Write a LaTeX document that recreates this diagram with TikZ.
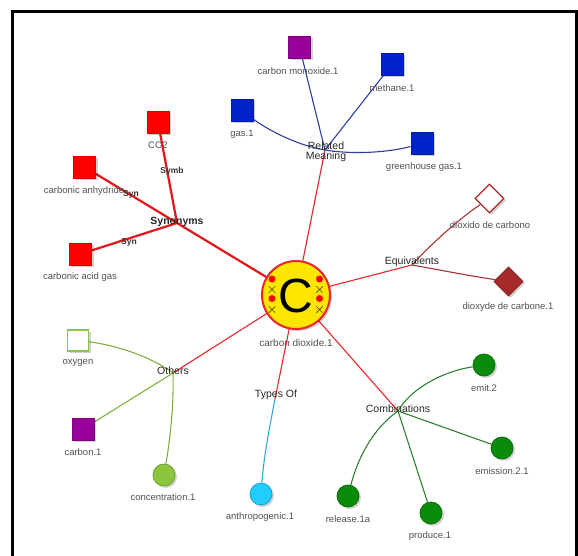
\documentclass[tikz,border=0pt]{standalone}
\usepackage{fontspec}
\setmainfont{Liberation Sans}
\usetikzlibrary{shadows,shapes.geometric}

\definecolor{redline}{HTML}{E8262B}
\definecolor{synred}{HTML}{E3161B}
\definecolor{redsq}{HTML}{FF0000}
\definecolor{bluesq}{HTML}{0022C8}
\definecolor{blueline}{HTML}{2B3FA0}
\definecolor{purplesq}{HTML}{990099}
\definecolor{brownsq}{HTML}{A52A2A}
\definecolor{brownline}{HTML}{A83236}
\definecolor{lightgreen}{HTML}{8CC63E}
\definecolor{lightgreenline}{HTML}{7FB03F}
\definecolor{darkgreen}{HTML}{0B8B0B}
\definecolor{darkgreenline}{HTML}{2F7F35}
\definecolor{cyanfill}{HTML}{22CCFF}
\definecolor{cyanline}{HTML}{2EA8D5}
\definecolor{yellowfill}{HTML}{FFE600}
\definecolor{labelgray}{HTML}{505050}
\definecolor{crossgreen}{HTML}{4D4D10}

\pgfdeclarelayer{bg}
\pgfsetlayers{bg,main}

\tikzset{
  shade1/.style={drop shadow={shadow xshift=2pt,shadow yshift=-2pt,opacity=0.18,fill=black}},
  sq/.style={rectangle,minimum size=22pt,inner sep=0pt,line width=0.8pt,shade1},
  dia/.style={diamond,minimum size=29pt,inner sep=0pt,line width=1.2pt,shade1},
  dot/.style={circle,minimum size=22pt,inner sep=0pt,line width=0.8pt,shade1},
  lbl/.style={font=\fontsize{9.5}{11}\selectfont,text=labelgray,inner sep=1pt},
  hublbl/.style={font=\fontsize{10.5}{12}\selectfont,text=black!85,inner sep=1pt,align=center},
  elbl/.style={font=\bfseries\fontsize{8.5}{10}\selectfont,text=black!80,inner sep=1pt},
  core/.style={line width=1.1pt,redline},
  syncore/.style={line width=2.2pt,synred},
  link/.style={line width=1.1pt},
  xmark/.style={crossgreen,line width=0.7pt},
}

\begin{document}
\begin{tikzpicture}[x=1pt,y=-1pt]
\useasboundingbox (0,0) rectangle (578,556);
% frame
\draw[line width=3pt,black] (12,556) -- (12,12) -- (576.5,12) -- (576.5,556);

% hub points
\coordinate (C0) at (296,295);
\coordinate (syn) at (177,223);
\coordinate (rel) at (325,150);
\coordinate (equ) at (412,265);
\coordinate (oth) at (173,373);
\coordinate (typ) at (275,399);
\coordinate (com) at (398,411);

% leaves
\node[sq,fill=redsq,draw=red!85!black] (co2) at (158,122) {};
\node[sq,fill=redsq,draw=red!85!black] (anh) at (84.5,167) {};
\node[sq,fill=redsq,draw=red!85!black] (acid) at (80.5,254) {};
\node[sq,fill=purplesq,draw=purplesq!85!black] (mono) at (299.5,47) {};
\node[sq,fill=bluesq,draw=bluesq!85!black] (meth) at (392,64.5) {};
\node[sq,fill=bluesq,draw=bluesq!85!black] (gas) at (242,110.5) {};
\node[sq,fill=bluesq,draw=bluesq!85!black] (green) at (422,143.5) {};
\node[dia,fill=white,draw=brownsq] (dioxido) at (489.5,198.5) {};
\node[dia,fill=brownsq,draw=brownsq!90!black] (dioxyde) at (508.5,281.5) {};
\node[sq,fill=white,draw=lightgreen,line width=1.4pt,minimum size=21pt] (oxy) at (78,340.5) {};
\node[sq,fill=purplesq,draw=purplesq!85!black] (carb) at (83,429) {};
\node[dot,fill=lightgreen,draw=lightgreen!80!black] (conc) at (164,475) {};
\node[dot,fill=cyanfill,draw=cyanfill!80!black] (anthro) at (261,494) {};
\node[dot,fill=darkgreen,draw=darkgreen!80!black] (emit) at (484,365) {};
\node[dot,fill=darkgreen,draw=darkgreen!80!black] (emis) at (502,448) {};
\node[dot,fill=darkgreen,draw=darkgreen!80!black] (prod) at (431,513) {};
\node[dot,fill=darkgreen,draw=darkgreen!80!black] (rel1a) at (348,496) {};

% connectors, drawn underneath the nodes
\begin{pgfonlayer}{bg}
  % centre to hubs
  \draw[syncore] (C0) -- (syn);
  \draw[core] (C0) -- (rel);
  \draw[core] (C0) -- (equ);
  \draw[core] (C0) -- (oth);
  \draw[core] (C0) -- (typ);
  \draw[core] (C0) -- (com);
  % synonyms
  \draw[syncore] (syn) -- (co2);
  \draw[syncore] (syn) -- (anh);
  \draw[syncore] (syn) -- (acid);
  % related meaning
  \draw[link,blueline] (rel) -- (mono);
  \draw[link,blueline] (rel) -- (meth);
  \draw[link,blueline] (gas) .. controls (265,128) and (295,145) .. (rel);
  \draw[link,blueline] (rel) .. controls (355,155) and (390,152) .. (green);
  % equivalents
  \draw[link,brownline] (equ) .. controls (430,245) and (460,218) .. (dioxido);
  \draw[link,brownline] (equ) .. controls (440,270) and (470,276) .. (dioxyde);
  % others
  \draw[link,lightgreenline] (oxy) .. controls (115,345) and (150,356) .. (oth);
  \draw[link,lightgreenline] (oth) -- (carb);
  \draw[link,lightgreenline] (oth) .. controls (174,405) and (170,440) .. (conc);
  % types of
  \draw[link,cyanline] (typ) .. controls (270,425) and (264,455) .. (anthro);
  % combinations
  \draw[link,darkgreenline] (com) .. controls (410,390) and (440,372) .. (emit);
  \draw[link,darkgreenline] (com) -- (emis);
  \draw[link,darkgreenline] (com) -- (prod);
  \draw[link,darkgreenline] (com) .. controls (378,425) and (360,450) .. (rel1a);
\end{pgfonlayer}

% edge labels of the synonym links
\node[elbl] (symb) at (172,171) {Symb};
\node[elbl] (syn1) at (131,194) {Syn};
\node[elbl] (syn2) at (129,242) {Syn};

% central concept
\node[circle,minimum size=68pt,inner sep=0pt,fill=yellowfill,draw=redline,line width=2pt,shade1] (cnode) at (C0) {};
\node[anchor=base,inner sep=0pt,font=\fontsize{48}{48}\selectfont] (bigC) at (296,312) {C};
\foreach \px/\py in {272/279,272/298.5,319.5/279,319.5/298.5}
  \fill[red] (\px,\py) circle (3.5);
\foreach \px/\py in {272/289.5,272/309.5,319.5/289.5,319.5/309.5}
  \draw[xmark] (\px-3.2,\py-3.2) -- (\px+3.2,\py+3.2) (\px-3.2,\py+3.2) -- (\px+3.2,\py-3.2);

% hub labels
\node[hublbl] (synL) at (177,222) {\bfseries Synonyms};
\node[hublbl] (relL) at (326,152) {Related\\[-2pt]Meaning};
\node[hublbl] (equL) at (412,262) {Equivalents};
\node[hublbl] (othL) at (173,371) {Others};
\node[hublbl] (typL) at (276,395) {Types Of};
\node[hublbl] (comL) at (398,409) {Combinations};

% leaf labels
\node[lbl] (tco2) at (158,145) {CO2};
\node[lbl] (tanh) at (84,191) {carbonic anhydride};
\node[lbl] (tacid) at (80,277) {carbonic acid gas};
\node[lbl] (tmono) at (298,71) {carbon monoxide.1};
\node[lbl] (tmeth) at (392,88) {methane.1};
\node[lbl] (tgas) at (242,134) {gas.1};
\node[lbl] (tgreen) at (424,167) {greenhouse gas.1};
\node[lbl] (tdioxido) at (490,225) {dioxido de carbono};
\node[lbl] (tdioxyde) at (508,307) {dioxyde de carbone.1};
\node[lbl] (toxy) at (78,363) {oxygen};
\node[lbl] (tcarb) at (83,452) {carbon.1};
\node[lbl] (tconc) at (163,497) {concentration.1};
\node[lbl] (tanthro) at (260,517) {anthropogenic.1};
\node[lbl] (temit) at (484,388) {emit.2};
\node[lbl] (temis) at (502,471) {emission.2.1};
\node[lbl] (tprod) at (430,536) {produce.1};
\node[lbl] (trel) at (348,519) {release.1a};
\node[lbl] (tcenter) at (296,343) {\fontsize{10}{12}\selectfont carbon dioxide.1};
\end{tikzpicture}
\end{document}
